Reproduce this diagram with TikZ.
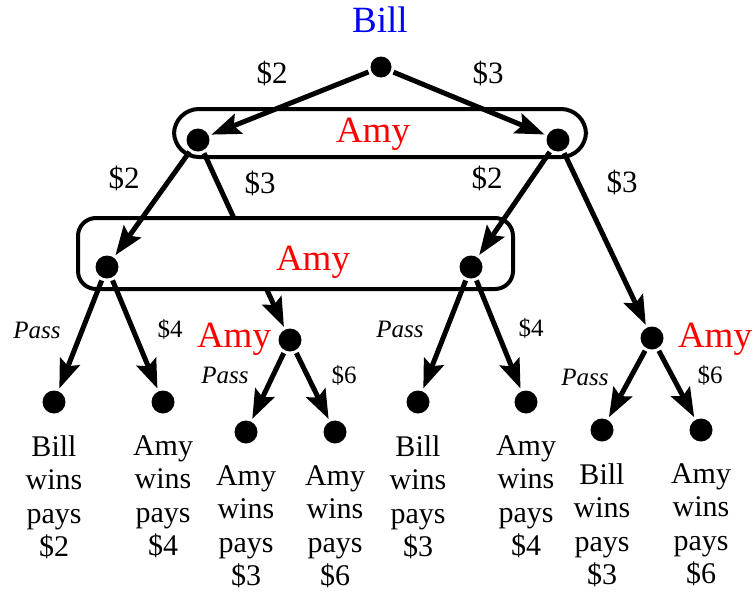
\documentclass[tikz,border=0pt]{standalone}
\usepackage{fontspec}
\setmainfont{Liberation Serif}
\usetikzlibrary{arrows.meta,positioning}

\tikzset{
    dot/.style={circle, fill=black, minimum size=23pt, inner sep=0pt, outer sep=3pt},
    move/.style={-{Stealth[length=29pt,width=21pt,inset=5pt]}, line width=5pt},
    infoset/.style={draw, line width=4pt, fill=white},
    player/.style={font=\fontsize{37}{37}\selectfont, text=red, inner sep=0pt, anchor=base},
    bid/.style={font=\fontsize{31}{31}\selectfont, inner sep=0pt, anchor=base},
    choice/.style={font=\fontsize{25}{25}\selectfont, inner sep=0pt, anchor=base},
    outcome/.style={font=\fontsize{30}{33.3}\selectfont, align=center, inner sep=0pt}
}

\begin{document}
\begin{tikzpicture}[x=1pt, y=-1pt]
    \useasboundingbox (0,0) rectangle (753,592);

    % Amy's first information set
    \draw [infoset, rounded corners=25pt] (174,109) rectangle (586,157);

    \node (root) [dot, minimum size=21pt] at (381,67) {};
    \node (aL) [dot] at (198,140) {};
    \node (aR) [dot] at (558,140) {};
    \node (c) [dot] at (290,340) {};

    % this move passes behind the second information set
    \draw [move] (aL) -- (c);

    % Amy's second information set
    \draw [infoset, rounded corners=18pt] (78,218) rectangle (513,289);

    \node (bL) [dot] at (107,267) {};
    \node (bR) [dot] at (471,267) {};
    \node (d) [dot] at (652,338) {};

    \node (l1) [dot] at (54,402) {};
    \node (l2) [dot] at (163,402) {};
    \node (l3) [dot] at (246,432) {};
    \node (l4) [dot] at (335,432) {};
    \node (l5) [dot] at (418,402) {};
    \node (l6) [dot] at (526,402) {};
    \node (l7) [dot] at (602,430) {};
    \node (l8) [dot] at (701,430) {};

    \path [move] (root) edge (aL) edge (aR);
    \path [move] (aL) edge (bL);
    \path [move] (aR) edge (bR) edge (d);
    \path [move] (bL) edge (l1) edge (l2);
    \path [move] (bR) edge (l5) edge (l6);
    \path [move] (c) edge (l3) edge (l4);
    \path [move] (d) edge (l7) edge (l8);

    % players
    \node (bill) [player, text=blue] at (380,32) {Bill};
    \node (amy1) [player] at (373,142) {Amy};
    \node (amy2) [player] at (313,270) {Amy};
    \node (amy3) [player] at (234,347) {Amy};
    \node (amy4) [player] at (715,347) {Amy};

    % bids
    \node (b1) [bid] at (272,83) {\$2};
    \node (b2) [bid] at (488,83) {\$3};
    \node (b3) [bid] at (124,188) {\$2};
    \node (b4) [bid] at (260,193) {\$3};
    \node (b5) [bid] at (487,188) {\$2};
    \node (b6) [bid] at (622,192) {\$3};

    \node (p1) [choice] at (37,338) {\textit{Pass}};
    \node (r1) [choice] at (170,337) {\$4};
    \node (p2) [choice] at (400,337) {\textit{Pass}};
    \node (r2) [choice] at (531,336) {\$4};
    \node (p3) [choice] at (225,383) {\textit{Pass}};
    \node (r3) [choice] at (344,383) {\$6};
    \node (p4) [choice] at (585,385) {\textit{Pass}};
    \node (r4) [choice] at (710,383) {\$6};

    % outcomes
    \node (o1) [outcome, below=19pt of l1] {Bill\\wins\\pays\\\$2};
    \node (o2) [outcome, below=19pt of l2] {Amy\\wins\\pays\\\$4};
    \node (o3) [outcome, below=19pt of l3] {Amy\\wins\\pays\\\$3};
    \node (o4) [outcome, below=19pt of l4] {Amy\\wins\\pays\\\$6};
    \node (o5) [outcome, below=19pt of l5] {Bill\\wins\\pays\\\$3};
    \node (o6) [outcome, below=19pt of l6] {Amy\\wins\\pays\\\$4};
    \node (o7) [outcome, below=19pt of l7] {Bill\\wins\\pays\\\$3};
    \node (o8) [outcome, below=19pt of l8] {Amy\\wins\\pays\\\$6};
\end{tikzpicture}
\end{document}
